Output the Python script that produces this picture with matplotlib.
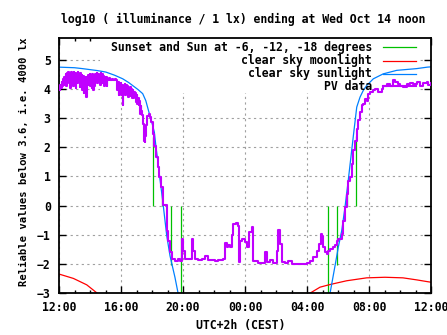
import matplotlib
matplotlib.use("Agg")
import matplotlib.pyplot as plt
from matplotlib.lines import Line2D
from matplotlib.patches import Rectangle

# ---------------- data (hours after 12:00 noon, log10 lux) ----------------
tick_hours = [0, 4, 8, 12, 16, 20, 24]
tick_labels = ["12:00", "16:00", "20:00", "00:00", "04:00", "08:00", "12:00"]

# sun events: sunset, -6, -12, -18 (evening) and -18, -12, -6, sunrise (morning)
sun_event_hours = [6.08, 6.63, 7.23, 7.85, 17.37, 17.95, 18.60, 19.14]
sun_event_values = [2.35, 0.45, -2.05, -3.5, -3.5, -2.05, 0.45, 2.40]

moon_eve_hours = [0.0, 0.93, 1.79, 2.45, 2.70]
moon_eve_values = [-2.35, -2.50, -2.72, -3.00, -3.10]
moon_morn_hours = [16.05, 16.15, 16.84, 17.48, 18.56, 19.85, 21.03, 22.19, 23.08, 23.76, 24.0]
moon_morn_values = [-3.10, -3.02, -2.80, -2.71, -2.58, -2.48, -2.46, -2.48, -2.55, -2.61, -2.63]

sun_eve_hours = [0.0, 1.0, 1.5, 2.5, 3.03, 3.6, 4.11, 4.5, 4.75, 5.1, 5.4, 5.6, 5.83,
                 6.04, 6.15, 6.26, 6.37, 6.47, 6.58, 6.69, 6.95, 7.16, 7.48, 7.68, 7.85]
sun_eve_values = [4.75, 4.73, 4.70, 4.63, 4.58, 4.47, 4.35, 4.22, 4.12, 3.98, 3.84, 3.60, 3.15,
                  2.75, 2.52, 2.00, 1.55, 1.09, 0.63, 0.17, -1.03, -1.72, -2.46, -3.00, -3.50]
sun_morn_hours = [17.3, 17.48, 17.81, 18.02, 18.24, 18.45, 18.66, 18.88, 19.03, 19.21, 19.42,
                  19.63, 19.85, 20.28, 20.92, 21.79, 23.08, 23.76, 24.0]
sun_morn_values = [-3.5, -3.03, -2.06, -1.43, -0.86, -0.06, 0.86, 1.88, 2.57, 3.38, 3.72,
                   3.95, 4.12, 4.35, 4.52, 4.64, 4.70, 4.75, 4.76]

pv_hours = [
    0.00, 0.04, 0.08, 0.13, 0.17, 0.21, 0.26, 0.30, 0.34, 0.39, 0.43, 0.47, 0.52, 0.56,
    0.60, 0.65, 0.69, 0.73, 0.78, 0.82, 0.86, 0.90, 0.95, 0.99, 1.03, 1.08, 1.12, 1.16,
    1.21, 1.25, 1.29, 1.34, 1.38, 1.42, 1.47, 1.51, 1.55, 1.60, 1.64, 1.68, 1.73, 1.77,
    1.81, 1.86, 1.90, 1.94, 1.99, 2.03, 2.07, 2.12, 2.16, 2.20, 2.25, 2.29, 2.33, 2.38,
    2.42, 2.46, 2.51, 2.55, 2.59, 2.64, 2.68, 2.72, 2.77, 2.81, 2.85, 2.90, 2.94, 2.98,
    3.03, 3.07, 3.11, 3.16, 3.20, 3.30, 3.40, 3.50, 3.60, 3.68, 3.72, 3.76, 3.81, 3.85,
    3.89, 3.94, 3.98, 4.02, 4.07, 4.11, 4.15, 4.20, 4.24, 4.28, 4.33, 4.37, 4.41, 4.46,
    4.50, 4.54, 4.59, 4.63, 4.67, 4.72, 4.76, 4.80, 4.85, 4.89, 4.93, 4.97, 5.02, 5.06,
    5.10, 5.15, 5.19, 5.23, 5.28, 5.32, 5.36, 5.42, 5.48, 5.52, 5.58, 5.62, 5.70, 5.80,
    5.88, 5.94, 6.04, 6.15, 6.26, 6.37, 6.47, 6.58, 6.73, 6.95, 7.05, 7.16, 7.27, 7.48,
    7.70, 7.81, 7.92, 7.95, 8.02, 8.13, 8.45, 8.56, 8.66, 8.77, 8.99, 9.21, 9.42, 9.63,
    10.06, 10.28, 10.60, 10.71, 10.82, 10.92, 11.03, 11.14, 11.25, 11.40, 11.57, 11.61,
    11.68, 11.79, 12.00, 12.11, 12.26, 12.43, 12.54, 12.86, 13.18, 13.29, 13.40, 13.61,
    13.83, 14.05, 14.15, 14.26, 14.37, 14.58, 14.79, 15.01, 15.66, 15.98, 16.19, 16.41,
    16.63, 16.79, 16.90, 16.99, 17.05, 17.16, 17.27, 17.37, 17.48, 17.70, 17.81, 17.92,
    18.02, 18.24, 18.34, 18.45, 18.56, 18.66, 18.77, 18.88, 18.99, 19.10, 19.21, 19.32,
    19.42, 19.53, 19.63, 19.74, 19.85, 19.95, 20.06, 20.28, 20.39, 20.60, 20.82, 20.92,
    21.14, 21.35, 21.57, 21.68, 21.89, 22.00, 22.21, 22.43, 22.65, 22.86, 23.08, 23.29,
    23.50, 23.72, 23.82, 24.00]
pv_values = [
    4.05, 3.95, 4.15, 4.05, 4.25, 4.10, 4.35, 4.15, 4.42, 4.20, 4.50, 4.12, 4.55, 4.30,
    4.58, 4.20, 4.52, 4.05, 4.57, 4.25, 4.50, 4.10, 4.58, 4.30, 4.55, 4.02, 4.50, 4.20,
    4.58, 4.35, 4.52, 4.08, 4.56, 4.28, 4.48, 3.95, 4.45, 3.85, 4.35, 4.10, 4.40, 3.72,
    4.30, 4.15, 4.48, 4.20, 4.50, 4.10, 4.45, 4.05, 4.50, 3.95, 4.30, 4.10, 4.52, 4.25,
    4.55, 4.20, 4.50, 4.30, 4.45, 4.15, 4.55, 4.30, 4.50, 4.20, 4.45, 4.10, 4.40, 4.20,
    4.42, 4.10, 4.35, 4.30, 4.38, 4.32, 4.35, 4.30, 4.33, 4.30, 4.28, 3.95, 4.25, 3.80,
    4.22, 3.90, 4.20, 3.78, 4.15, 3.46, 4.10, 3.85, 4.18, 3.80, 4.15, 3.90, 4.10, 3.72,
    4.05, 3.85, 4.08, 3.75, 4.00, 3.70, 3.95, 3.68, 3.90, 3.75, 3.85, 3.55, 3.80, 3.50,
    3.70, 3.45, 3.60, 3.15, 3.40, 3.25, 3.10, 2.80, 2.20, 2.18, 2.40, 2.75, 3.09, 3.13,
    3.05, 2.86, 2.46, 2.06, 1.66, 1.32, 0.97, 0.63, 0.02, -0.86, -1.20, -1.60, -1.83, -1.89,
    -1.83, -1.89, -1.14, -1.14, -1.55, -1.83, -1.82, -1.14, -1.55, -1.82, -1.87, -1.82, -1.72, -1.87,
    -1.91, -1.88, -1.83, -1.30, -1.43, -1.37, -1.43, -1.00, -0.63, -0.61, -0.69, -1.95,
    -1.20, -1.14, -1.26, -1.43, -0.92, -0.75, -1.89, -1.98, -1.98, -1.60, -1.95, -1.87,
    -1.96, -1.55, -0.84, -1.32, -1.95, -1.98, -1.91, -2.00, -2.00, -1.98, -1.89, -1.78,
    -1.55, -1.32, -0.97, -1.03, -1.43, -1.60, -1.66, -1.55, -1.49, -1.43, -1.37, -1.20,
    -1.14, -0.97, -0.52, -0.06, 0.40, 0.86, 0.97, 1.43, 1.89, 2.23, 2.63, 2.92,
    3.20, 3.45, 3.50, 3.64, 3.60, 3.84, 3.89, 3.95, 4.01, 3.89, 4.01, 4.12,
    4.18, 4.12, 4.30, 4.23, 4.18, 4.12, 4.07, 4.18, 4.20, 4.16, 4.24, 4.12,
    4.20, 4.24, 4.15, 4.20]

title = "log10 ( illuminance / 1 lx) ending at Wed Oct 14 noon"
ylabel = "Reliable values below 3.6, i.e. 4000 lx"
xlabel = "UTC+2h (CEST)"
legend_labels = ["Sunset and Sun at -6, -12, -18 degrees", "clear sky moonlight",
                 "clear sky sunlight", "PV data"]

# ---------------- styling ----------------
GREEN, RED, BLUE, PURPLE = "#00c000", "#ff0000", "#0080ff", "#c000ff"
FONT = dict(family="DejaVu Sans Mono", weight="bold", size=8.3)
W, H = 447, 335

fig = plt.figure(figsize=(W / 100, H / 100), dpi=100)
L, R, T, B = 59, 431, 38, 293
ax = fig.add_axes([L / W, 1 - B / H, (R - L) / W, (B - T) / H])
ax.set_xlim(0, 24)
ax.set_ylim(-3, 5.75)

ax.set_axisbelow(True)
ax.grid(True, which="major", color="#a0a0a0", linestyle=(0, (2, 3)), linewidth=0.8)
# key area hides the grid (as gnuplot does)
ax.add_patch(Rectangle(((100 - L) / (R - L), (B - 93) / (B - T)),
                       (418 - 100) / (R - L), 1.0, transform=ax.transAxes,
                       facecolor="white", edgecolor="none", zorder=0.8))

ax.vlines(sun_event_hours, 0, sun_event_values, color=GREEN, lw=0.9, zorder=2)
ax.plot(moon_eve_hours, moon_eve_values, color=RED, lw=0.9, zorder=2)
ax.plot(moon_morn_hours, moon_morn_values, color=RED, lw=0.9, zorder=2)
ax.plot(sun_eve_hours, sun_eve_values, color=BLUE, lw=0.9, zorder=2)
ax.plot(sun_morn_hours, sun_morn_values, color=BLUE, lw=0.9, zorder=2)
ax.plot(pv_hours, pv_values, color=PURPLE, lw=1.5, drawstyle="steps-post", zorder=3)

ax.set_xticks(tick_hours)
ax.set_xticklabels(tick_labels)
ax.set_xticks(range(0, 25), minor=True)
ax.set_yticks(range(-3, 6))
ax.tick_params(which="both", direction="in", top=True, right=True, width=1)
ax.tick_params(which="major", length=5)
ax.tick_params(which="minor", length=2.5)
ax.tick_params(axis="x", which="major", pad=6)
ax.tick_params(axis="y", which="major", pad=6)
for lab in ax.get_xticklabels() + ax.get_yticklabels():
    lab.set_fontfamily(FONT["family"])
    lab.set_fontweight(FONT["weight"])
    lab.set_fontsize(FONT["size"])
for s in ax.spines.values():
    s.set_linewidth(1.3)

fig.text(243 / W, 1 - 19 / H, title, ha="center", va="center", **FONT)
fig.text(241 / W, 1 - 325 / H, xlabel, ha="center", va="center", **FONT)
fig.text(24 / W, 1 - 162 / H, ylabel, ha="center", va="center", rotation=90,
         family=FONT["family"], weight="bold", size=7.6)

# key
key_colors = [GREEN, RED, BLUE, PURPLE]
key_y = [47, 60.5, 73.5, 86]
for lab, col, yy in zip(legend_labels, key_colors, key_y):
    fig.text(372 / W, 1 - yy / H, lab, ha="right", va="center", **FONT)
    fig.add_artist(Line2D([383 / W, 416 / W], [1 - yy / H] * 2, transform=fig.transFigure,
                          color=col, lw=1.5 if col == PURPLE else 0.9))

fig.savefig("out.png", dpi=100)
